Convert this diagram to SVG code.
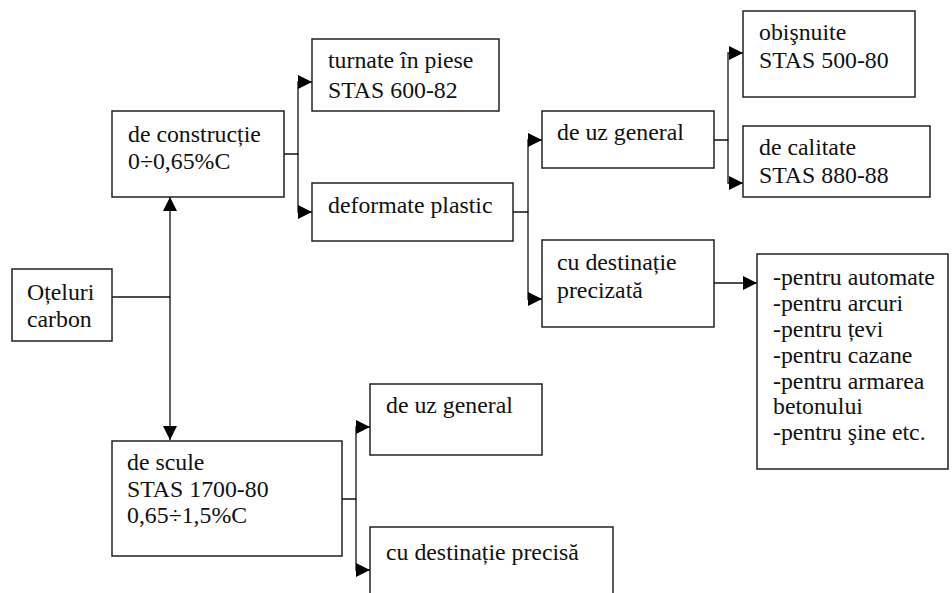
<svg xmlns="http://www.w3.org/2000/svg" width="952" height="593" viewBox="0 0 952 593">
<style>
.box{fill:#fff;stroke:#222;stroke-width:1.5}
.t{font-family:'Liberation Serif','Times New Roman',serif;font-size:23.8px;fill:#111}
.c{fill:none;stroke:#111;stroke-width:1.3}
</style>
<defs>
<marker id="ah" markerUnits="userSpaceOnUse" markerWidth="15" markerHeight="15" refX="14" refY="7" orient="auto">
<path d="M0,0 L14,7 L0,14 z" fill="#000"/>
</marker>
</defs>
<rect width="952" height="593" fill="#fff"/>
<g id="connectors">
<path class="c" d="M112,297 H170 V197" marker-end="url(#ah)"/>
<path class="c" d="M170,297 V440" marker-end="url(#ah)"/>
<path class="c" d="M284,154 H298 V82 H312" marker-end="url(#ah)"/>
<path class="c" d="M298,154 V212 H312" marker-end="url(#ah)"/>
<path class="c" d="M513,212 H528 V140 H542" marker-end="url(#ah)"/>
<path class="c" d="M528,212 V299 H542" marker-end="url(#ah)"/>
<path class="c" d="M714,140 H728 V53 H743" marker-end="url(#ah)"/>
<path class="c" d="M728,140 V183 H743" marker-end="url(#ah)"/>
<path class="c" d="M714,283 H757" marker-end="url(#ah)"/>
<path class="c" d="M342,499 H356 V427 H370" marker-end="url(#ah)"/>
<path class="c" d="M356,499 V570 H370" marker-end="url(#ah)"/>
</g>
<g id="oteluri">
<rect class="box" x="12" y="269" width="100" height="72"/>
<text class="t" x="27" y="300">Oțeluri</text>
<text class="t" x="27" y="327">carbon</text>
</g>
<g id="constructie">
<rect class="box" x="112" y="111" width="172" height="86"/>
<text class="t" x="128" y="142">de construcție</text>
<text class="t" x="128" y="169">0÷0,65%C</text>
</g>
<g id="turnate">
<rect class="box" x="312" y="39" width="187" height="72"/>
<text class="t" x="328" y="68">turnate în piese</text>
<text class="t" x="328" y="98">STAS 600-82</text>
</g>
<g id="deformate">
<rect class="box" x="312" y="183" width="201" height="58"/>
<text class="t" x="328" y="213">deformate plastic</text>
</g>
<g id="uzgeneral1">
<rect class="box" x="542" y="111" width="172" height="57"/>
<text class="t" x="557" y="140">de uz general</text>
</g>
<g id="precizata">
<rect class="box" x="542" y="240" width="172" height="87"/>
<text class="t" x="557" y="270">cu destinație</text>
<text class="t" x="557" y="298">precizată</text>
</g>
<g id="obisnuite">
<rect class="box" x="743" y="11" width="172" height="86"/>
<text class="t" x="759" y="40">obişnuite</text>
<text class="t" x="759" y="68">STAS 500-80</text>
</g>
<g id="calitate">
<rect class="box" x="743" y="126" width="187" height="71"/>
<text class="t" x="759" y="155">de calitate</text>
<text class="t" x="759" y="183">STAS 880-88</text>
</g>
<g id="lista">
<rect class="box" x="757" y="254" width="191" height="215"/>
<text class="t" x="773" y="285">-pentru automate</text>
<text class="t" x="773" y="311">-pentru arcuri</text>
<text class="t" x="773" y="337">-pentru țevi</text>
<text class="t" x="773" y="363">-pentru cazane</text>
<text class="t" x="773" y="389">-pentru armarea</text>
<text class="t" x="773" y="414">betonului</text>
<text class="t" x="773" y="440">-pentru şine etc.</text>
</g>
<g id="scule">
<rect class="box" x="112" y="441" width="230" height="115"/>
<text class="t" x="127" y="470">de scule</text>
<text class="t" x="127" y="497">STAS 1700-80</text>
<text class="t" x="127" y="523">0,65÷1,5%C</text>
</g>
<g id="uzgeneral2">
<rect class="box" x="370" y="384" width="172" height="71"/>
<text class="t" x="386" y="413">de uz general</text>
</g>
<g id="precisa">
<rect class="box" x="370" y="527" width="243" height="80"/>
<text class="t" x="386" y="560">cu destinație precisă</text>
</g>
</svg>
